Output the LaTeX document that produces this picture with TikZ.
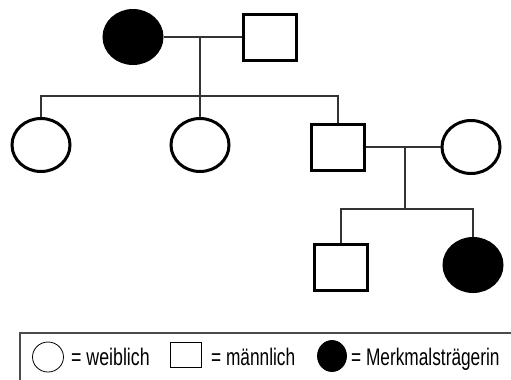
\documentclass[tikz,border=0pt]{standalone}
\usepackage{fontspec}
\setmainfont{Liberation Sans}
\usetikzlibrary{shapes.geometric}

\begin{document}
\begin{tikzpicture}[x=1bp,y=-1bp,
    female/.style={draw,ellipse,line width=3bp,minimum width=58bp,minimum height=53bp,inner sep=0pt},
    carrier/.style={female,fill=black},
    male/.style={draw,rectangle,line width=3bp,minimum width=53bp,minimum height=46bp,inner sep=0pt},
    link/.style={line width=1.4bp,black!80},
    keyshape/.style={draw,line width=0.8bp,inner sep=0pt},
    keylabel/.style={anchor=base west,inner sep=0pt,font=\fontsize{24bp}{26bp}\selectfont}]

  \useasboundingbox (0,0) rectangle (511,379);

  % generation 1
  \node [carrier] (mother) at (133,37) {};
  \node [male]    (father) at (270,37) {};

  % generation 2
  \node [female] (daughter1) at (41,145)  {};
  \node [female] (daughter2) at (200,145) {};
  \node [male]   (son)       at (338,147) {};
  \node [female] (wife)      at (471,147) {};

  % generation 3
  \node [male]    (grandson)      at (341,267) {};
  \node [carrier] (granddaughter) at (473,265) {};

  \coordinate (couple1)   at (200,37);
  \coordinate (siblings1) at (200,96);
  \coordinate (couple2)   at (405,147);
  \coordinate (siblings2) at (405,209);

  \path [draw,link]
    (mother)  edge (father)
    (couple1) edge (daughter2.north)
    (son)     edge (wife)
    (couple2) edge (siblings2);
  \draw [link] (daughter1.north) |- (siblings1) -| (son.north);
  \draw [link] (grandson.north) |- (siblings2) -| (granddaughter.north);

  % legend
  \draw [line width=1.4bp,black!70] (20,333) rectangle (540,400);
  \node [keyshape,ellipse,minimum width=31bp,minimum height=30bp] (key_f) at (48,357) {};
  \node [keylabel] (key_f_text) at (71,365) {\scalebox{0.74}[1]{= weiblich}};
  \node [keyshape,rectangle,minimum width=31bp,minimum height=25bp] (key_m) at (186,355) {};
  \node [keylabel] (key_m_text) at (211,365) {\scalebox{0.72}[1]{= männlich}};
  \node [keyshape,ellipse,fill=black,minimum width=29bp,minimum height=31bp] (key_c) at (332,356) {};
  \node [keylabel] (key_c_text) at (351,365) {\scalebox{0.72}[1]{= Merkmalsträgerin}};

\end{tikzpicture}
\end{document}
